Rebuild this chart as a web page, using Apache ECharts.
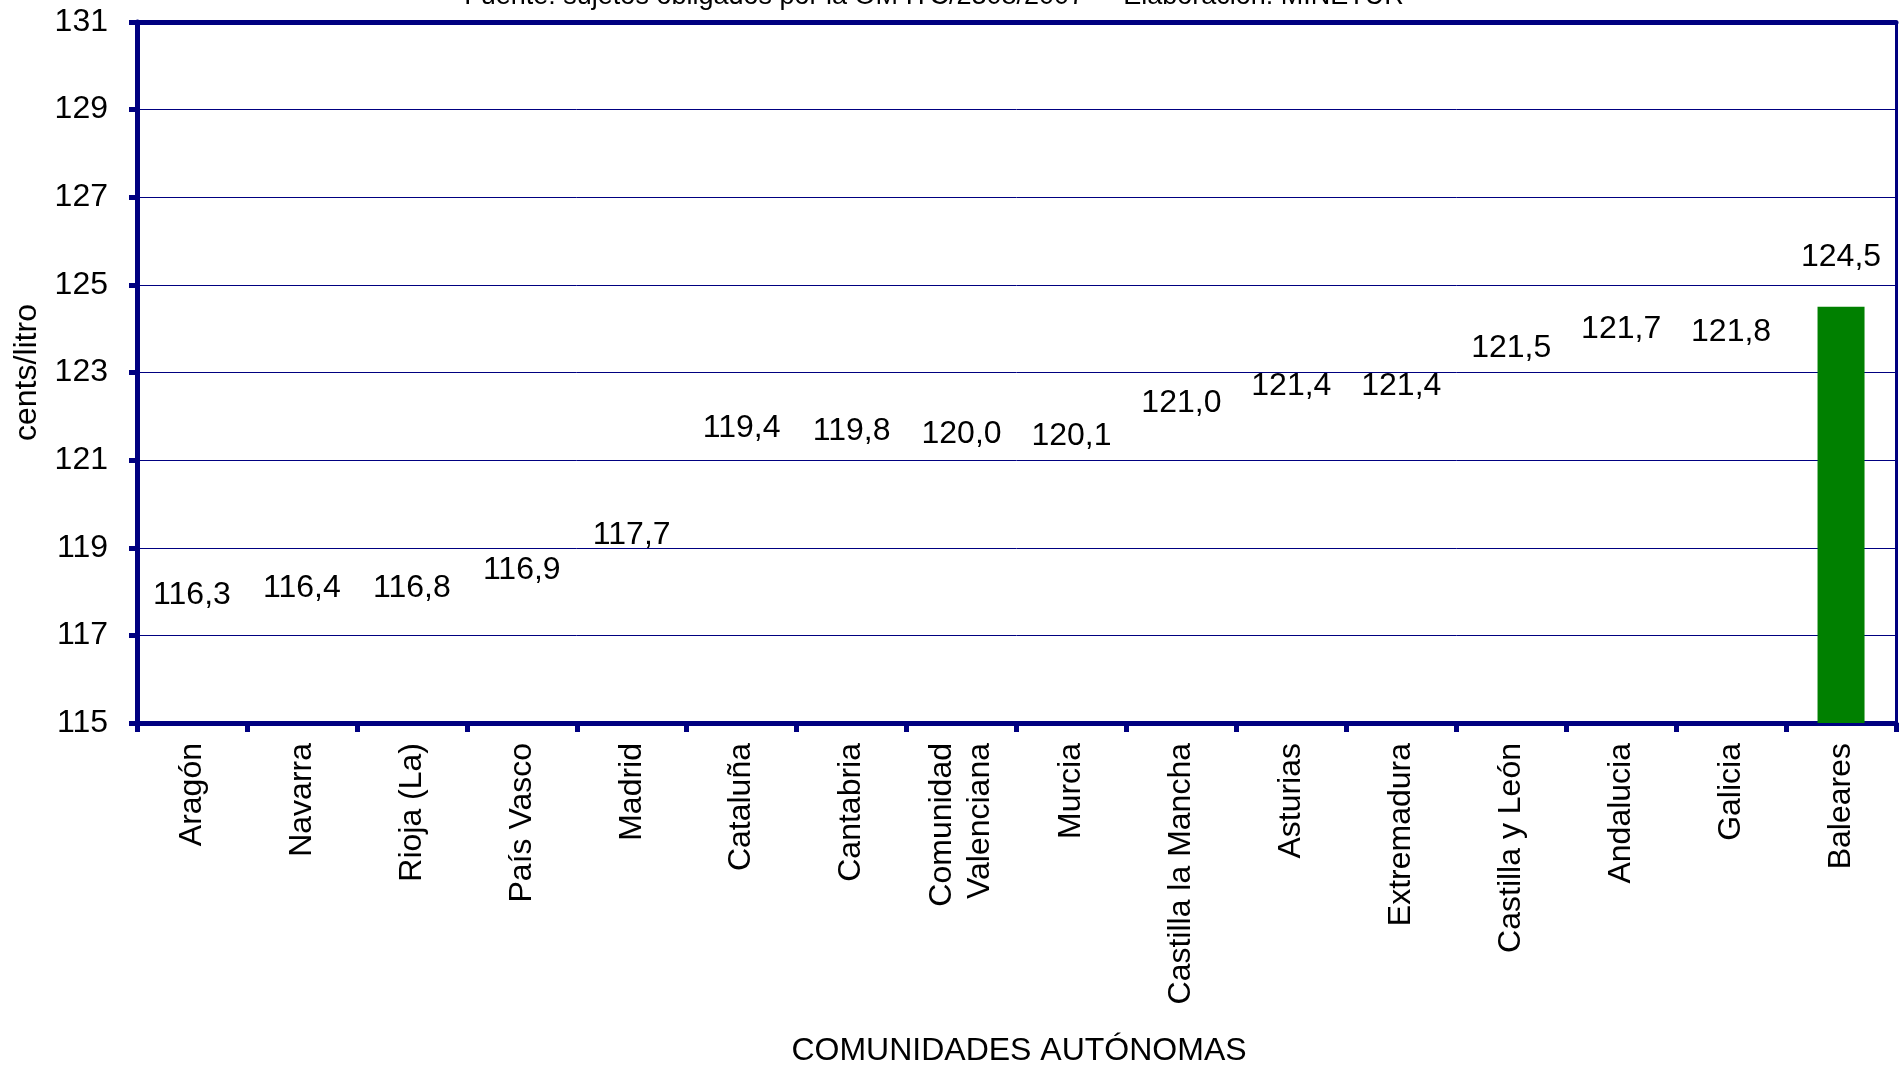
<!DOCTYPE html>
<html>
<head>
<meta charset="utf-8">
<script src="https://cdn.jsdelivr.net/npm/echarts@6/dist/echarts.min.js"></script>
<style>
html,body{margin:0;padding:0;background:#fff;}
#chart{width:1899px;height:1067px;}
</style>
</head>
<body>
<div id="chart"></div>
<script>
const categories = ['Aragón','Navarra','Rioja (La)','País Vasco','Madrid','Cataluña','Cantabria','Comunidad\nValenciana','Murcia','Castilla la Mancha','Asturias','Extremadura','Castilla y León','Andalucia','Galicia','Baleares'];
const prices = [116.3,116.4,116.8,116.9,117.7,119.4,119.8,120.0,120.1,121.0,121.4,121.4,121.5,121.7,121.8,124.5];
const highlighted = ['Baleares'];
const yTicks = {min:115, max:131, interval:2};
const sourceText = 'Fuente: sujetos obligados por la OM ITC/2308/2007  -  Elaboración: MINETUR';
const yName = 'cents/litro';
const xName = 'COMUNIDADES AUTÓNOMAS';

// styling: distance (px) of each value label's centre above its bar top, as in the original layout
const labelLift = [71,73,56,70,70,102,82,70,63,57,56,56,90,100,93,50];

const NAVY = '#000080';
const FONT = '"Liberation Sans", Arial, sans-serif';
const FS = 32;

const chart = echarts.init(document.getElementById('chart'));
const data = prices.map((v,i)=>({
  value: v,
  itemStyle: { color: highlighted.includes(categories[i]) ? '#008000' : 'rgba(0,0,0,0)' },
  label: {
    show: true,
    position: ['50%', -labelLift[i]],
    align: 'center',
    verticalAlign: 'middle',
    formatter: () => v.toFixed(1).replace('.', ','),
    fontSize: FS, fontFamily: FONT, color: '#000'
  }
}));

chart.setOption({
  animation: false,
  backgroundColor: '#fff',
  grid: { left: 137, right: 3, top: 22, bottom: 344, containLabel: false },
  graphic: [
    { type: 'text', style: { text: sourceText, x: 934, y: 10, align: 'center', verticalAlign: 'bottom', fontSize: 27, fontFamily: FONT, fill: '#000' } },
    { type: 'text', style: { text: xName, x: 1019, y: 1051, align: 'center', verticalAlign: 'middle', fontSize: FS, fontFamily: FONT, fill: '#000' } }
  ],
  xAxis: [{
    type: 'category',
    data: categories,
    position: 'bottom',
    axisLine: { lineStyle: { color: NAVY, width: 5 } },
    axisTick: { show: true, alignWithLabel: false, length: 9, lineStyle: { color: NAVY, width: 5 } },
    axisLabel: { rotate: 90, margin: 20, fontSize: FS, fontFamily: FONT, color: '#000', lineHeight: 38, interval: 0 },
    splitLine: { show: false }
  },{
    type: 'category',
    data: categories,
    position: 'top',
    axisLine: { show: true, lineStyle: { color: NAVY, width: 5 } },
    axisTick: { show: false },
    axisLabel: { show: false }
  }],
  yAxis: [{
    type: 'value',
    min: yTicks.min, max: yTicks.max, interval: yTicks.interval,
    name: yName,
    nameLocation: 'middle',
    nameRotate: 90,
    nameGap: 94,
    nameTextStyle: { fontSize: FS, fontFamily: FONT, color: '#000' },
    axisLine: { show: true, lineStyle: { color: NAVY, width: 5 } },
    axisTick: { show: true, length: 8, lineStyle: { color: NAVY, width: 5 } },
    axisLabel: { margin: 29, fontSize: FS, fontFamily: FONT, color: '#000' },
    splitLine: { show: true, lineStyle: { color: NAVY, width: 1 } }
  },{
    type: 'value',
    position: 'right',
    min: yTicks.min, max: yTicks.max, interval: yTicks.interval,
    axisLine: { show: true, lineStyle: { color: NAVY, width: 3 } },
    axisTick: { show: false },
    axisLabel: { show: false },
    splitLine: { show: false }
  }],
  series: [{
    type: 'bar',
    data: data,
    barWidth: 47,
    xAxisIndex: 0,
    yAxisIndex: 0
  }]
});
</script>
</body>
</html>
